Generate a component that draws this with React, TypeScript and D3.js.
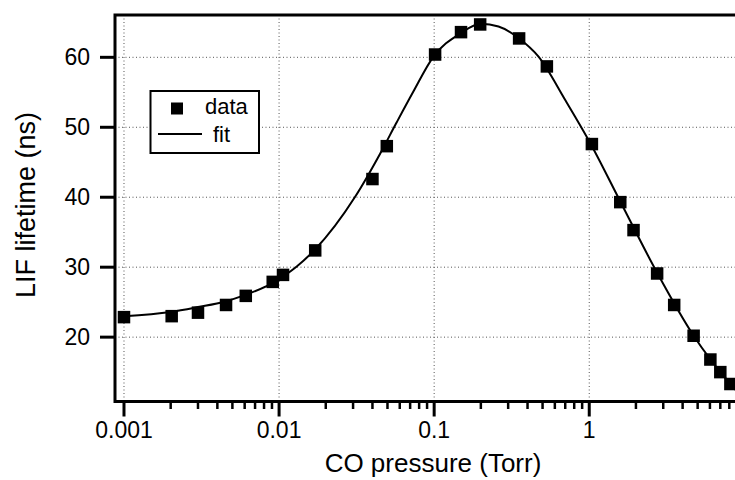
import React from "react";
import * as d3 from "d3";

const pressure = [0.001, 0.00203, 0.003, 0.00455, 0.0061, 0.0091, 0.0106, 0.0171, 0.04, 0.0495, 0.1014, 0.149, 0.198, 0.353, 0.533, 1.04, 1.585, 1.93, 2.74, 3.53, 4.71, 6.04, 7.0, 8.13];
const lifetime = [22.86, 23.0, 23.5, 24.6, 25.9, 27.9, 28.9, 32.4, 42.6, 47.3, 60.4, 63.6, 64.7, 62.7, 58.7, 47.6, 39.3, 35.3, 29.1, 24.6, 20.2, 16.8, 15.0, 13.3];

const fitPressure = [0.001, 0.002, 0.003, 0.0045, 0.006, 0.009, 0.011, 0.013, 0.017, 0.031, 0.045, 0.057, 0.073, 0.099, 0.147, 0.2, 0.26, 0.353, 0.471, 0.7, 1.0, 1.585, 2.74, 4.71, 8.13, 8.9];
const fitLifetime = [23.0, 23.6, 24.3, 25.1, 26.0, 27.7, 28.9, 30.1, 32.5, 40.1, 46.3, 50.6, 55.0, 60.1, 63.4, 64.8, 64.4, 62.7, 60.1, 53.9, 48.0, 39.4, 29.2, 20.2, 13.3, 12.3];

const yTicks = [20, 30, 40, 50, 60];
const xMajor = [0.001, 0.01, 0.1, 1];
const xMajorLabels = ["0.001", "0.01", "0.1", "1"];

const W = 735;
const H = 480;
const left = 115;
const right = 745;
const top = 15;
const bottom = 401.5;
const FONT = "'Liberation Sans', Arial, Helvetica, sans-serif";

export default function App() {
  const x = d3.scaleLog().domain([0.000875, 10.1]).range([left, right]);
  const y = d3.scaleLinear().domain([10.8, 66.05]).range([bottom, top]);

  const minor: number[] = [];
  for (let e = -3; e <= 0; e++) {
    for (let m = 2; m <= 9; m++) {
      const v = m * Math.pow(10, e);
      if (x(v) < W) minor.push(v);
    }
  }

  const line = d3
    .line<number>()
    .x((_, i) => x(fitPressure[i]))
    .y((d) => y(d))
    .curve(d3.curveMonotoneX);

  const sq = 12.5;

  return (
    <svg width={W} height={H} style={{ position: "absolute", left: 0, top: 0, background: "#fff" }}>
      <defs>
        <clipPath id="plot">
          <rect x={left} y={top} width={right - left} height={bottom - top} />
        </clipPath>
      </defs>
      <rect x={0} y={0} width={W} height={H} fill="#fff" />
      {/* grid */}
      <g stroke="#555" strokeWidth={1} strokeDasharray="1 2.5">
        {xMajor.map((v) => (
          <line key={"gx" + v} x1={x(v)} x2={x(v)} y1={top} y2={bottom} />
        ))}
        {yTicks.map((v) => (
          <line key={"gy" + v} x1={left} x2={right} y1={y(v)} y2={y(v)} />
        ))}
      </g>
      {/* fit */}
      <g clipPath="url(#plot)">
        <path d={line(fitLifetime) || ""} fill="none" stroke="#000" strokeWidth={2} />
      </g>
      {/* data */}
      <g fill="#000">
        {pressure.map((p, i) => (
          <rect key={"d" + i} x={x(p) - sq / 2} y={y(lifetime[i]) - sq / 2} width={sq} height={sq} />
        ))}
      </g>
      {/* frame */}
      <path
        d={`M${right},${top}H${left}V${bottom}H${right}`}
        fill="none"
        stroke="#000"
        strokeWidth={3}
      />
      {/* ticks */}
      <g stroke="#000" strokeWidth={3}>
        {yTicks.map((v) => (
          <line key={"yt" + v} x1={left - 15} x2={left} y1={y(v)} y2={y(v)} />
        ))}
        {xMajor.map((v) => (
          <line key={"xt" + v} x1={x(v)} x2={x(v)} y1={bottom} y2={bottom + 15} />
        ))}
      </g>
      <g stroke="#000" strokeWidth={2.5}>
        {minor.map((v) => (
          <line key={"xm" + v} x1={x(v)} x2={x(v)} y1={bottom} y2={bottom + 7.5} />
        ))}
      </g>
      {/* tick labels */}
      <g fontFamily={FONT} fontSize={23} fill="#000">
        {yTicks.map((v) => (
          <text key={"yl" + v} x={left - 25} y={y(v) + 8} textAnchor="end">
            {v}
          </text>
        ))}
        {xMajor.map((v, i) => (
          <text key={"xl" + v} x={x(v)} y={438} textAnchor="middle">
            {xMajorLabels[i]}
          </text>
        ))}
      </g>
      {/* axis titles */}
      <text x={433} y={472} textAnchor="middle" fontFamily={FONT} fontSize={26} fill="#000">
        CO pressure (Torr)
      </text>
      <text
        transform="translate(35,205) rotate(-90)"
        textAnchor="middle"
        fontFamily={FONT}
        fontSize={27}
        fill="#000"
      >
        LIF lifetime (ns)
      </text>
      {/* legend */}
      <g>
        <rect x={150.5} y={91} width={108.5} height={62} fill="#fff" stroke="#000" strokeWidth={2} />
        <rect x={177 - 6} y={108.5 - 6} width={12} height={12} fill="#000" />
        <line x1={158} x2={202} y1={134} y2={134} stroke="#000" strokeWidth={2} />
        <text x={205} y={114} fontFamily={FONT} fontSize={22} fill="#000">
          data
        </text>
        <text x={213} y={142} fontFamily={FONT} fontSize={22} fill="#000">
          fit
        </text>
      </g>
    </svg>
  );
}
